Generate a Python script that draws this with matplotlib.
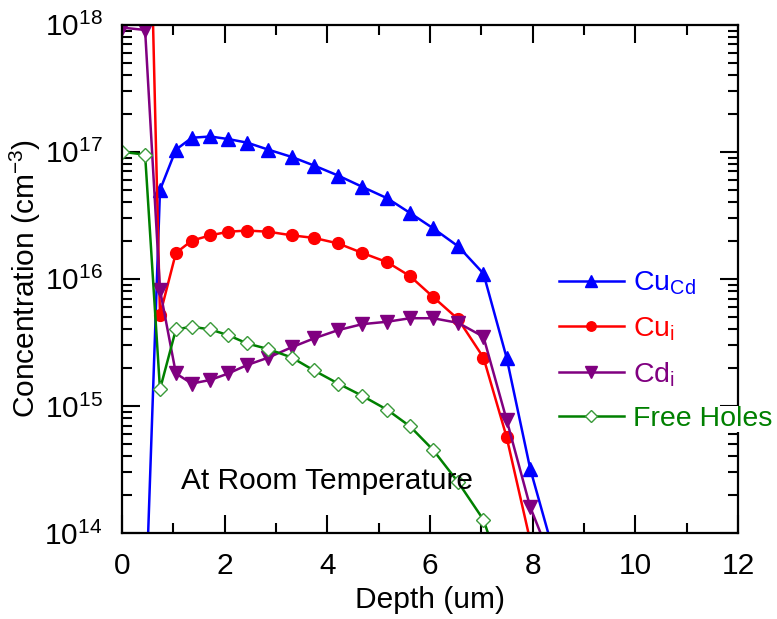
import matplotlib
matplotlib.use('Agg')
import matplotlib.pyplot as plt
import numpy as np

plt.rcParams['font.family'] = ['Liberation Sans', 'DejaVu Sans']
plt.rcParams['mathtext.fontset'] = 'custom'
plt.rcParams['mathtext.rm'] = 'Liberation Sans'
plt.rcParams['mathtext.it'] = 'Liberation Sans'
plt.rcParams['mathtext.default'] = 'regular'

# depth grid (um)
depth_cucd = [0.45, 0.74, 1.05, 1.36, 1.72, 2.07, 2.44, 2.85, 3.31, 3.74,
              4.21, 4.68, 5.17, 5.61, 6.06, 6.55, 7.04, 7.49, 7.95, 8.4]
cu_cd = [2e13, 5.0e16, 1.04e17, 1.29e17, 1.32e17, 1.26e17, 1.18e17, 1.04e17, 9.1e16, 7.8e16,
         6.5e16, 5.3e16, 4.3e16, 3.3e16, 2.5e16, 1.8e16, 1.1e16, 2.4e15, 3.2e14, 7.2e13]

depth_cui = depth_cucd
cu_i = [4.3e20, 5.2e15, 1.6e16, 2.0e16, 2.2e16, 2.35e16, 2.4e16, 2.35e16, 2.2e16, 2.1e16,
        1.9e16, 1.6e16, 1.35e16, 1.05e16, 7.2e15, 4.8e15, 2.4e15, 5.7e14, 8.7e13, 1e13]

depth_cdi = [0] + depth_cucd
cd_i = [9.5e17, 9.1e17, 8.2e15, 1.8e15, 1.5e15, 1.6e15, 1.8e15, 2.1e15, 2.4e15, 2.9e15, 3.4e15,
        3.95e15, 4.4e15, 4.6e15, 4.9e15, 4.9e15, 4.5e15, 3.5e15, 7.8e14, 1.6e14, 5.6e13]

depth_holes = [0] + depth_cucd[:18]
holes = [1.0e17, 9.5e16, 1.35e15, 4.0e15, 4.2e15, 4.0e15, 3.6e15, 3.1e15, 2.8e15, 2.4e15,
         1.9e15, 1.5e15, 1.2e15, 9.3e14, 6.9e14, 4.5e14, 2.5e14, 1.27e14, 3.7e13]

labels = ['Cu$_{Cd}$', 'Cu$_{i}$', 'Cd$_{i}$', 'Free Holes']
colors = ['#0000ff', '#ff0000', '#800080', '#008000']

fig = plt.figure(figsize=(7.77, 6.19), dpi=100)
ax = fig.add_axes([0.157, 0.139, 0.793, 0.821])

ax.plot(depth_cucd, cu_cd, color=colors[0], lw=1.8, marker='^', ms=10, label=labels[0])
ax.plot(depth_cui, cu_i, color=colors[1], lw=1.8, marker='o', ms=8.5, label=labels[1])
ax.plot(depth_cdi, cd_i, color=colors[2], lw=1.8, marker='v', ms=10, label=labels[2])
ax.plot(depth_holes, holes, color=colors[3], lw=1.8, marker='D', ms=7.5,
        mfc='white', mec='#3a9a3a', mew=1.0, label=labels[3])

ax.set_yscale('log')
ax.set_xlim(0, 12)
ax.set_ylim(1e14, 1e18)
ax.set_xticks(np.arange(0, 13, 2))
ax.set_xticks(np.arange(1, 12, 2), minor=True)

for s in ax.spines.values():
    s.set_linewidth(1.6)
ax.tick_params(which='both', direction='in', top=True, right=True, width=1.5,
               labelsize=21.5, pad=14)
ax.tick_params(which='major', length=13)
ax.tick_params(which='minor', length=7)

ax.set_xlabel('Depth (um)', fontsize=21.5, labelpad=4)
ax.set_ylabel('Concentration (cm$^{-3}$)', fontsize=21.5, labelpad=1)

ax.text(1.15, 2.2e14, 'At Room Temperature', fontsize=21.5, ha='left', va='baseline')

leg = ax.legend(loc='upper left', bbox_to_anchor=(0.69, 0.54), frameon=False,
                fontsize=20.5, handlelength=2.3, handletextpad=0.3, labelspacing=0.62,
                markerscale=0.8, borderaxespad=0)
for t, c in zip(leg.get_texts(), colors):
    t.set_color(c)
leg.get_texts()[3].set_bbox(dict(facecolor='white', edgecolor='none', pad=0))

fig.savefig('out.png', dpi=100)
